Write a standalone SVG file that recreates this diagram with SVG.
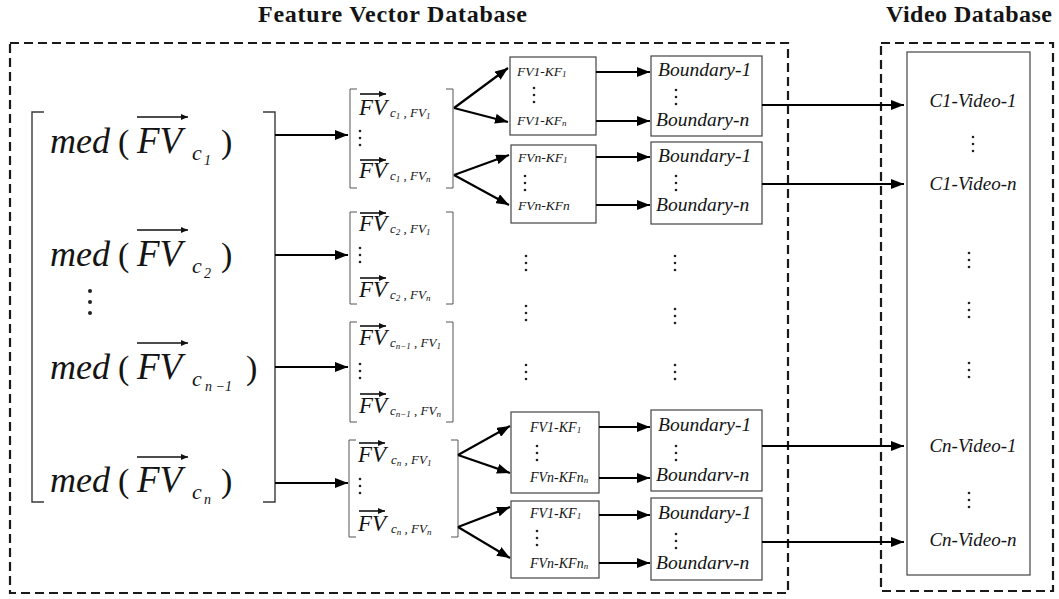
<svg xmlns="http://www.w3.org/2000/svg" width="1059" height="599" viewBox="0 0 1059 599">
<style>
.t{font-family:"Liberation Serif","Times New Roman",serif;fill:#141414}
.ti{font-weight:bold;font-size:24px}
.big{font-style:italic;font-size:36px}
.fv{font-style:italic;font-size:37px}
.par{font-size:34px}
.cs{font-style:italic;font-size:22px}
.cs2{font-style:italic;font-size:14px}
.mfv{font-style:italic;font-size:23px}
.msb{font-style:italic;font-size:13px}
.mss{font-style:italic;font-size:9px}
.kf{font-style:italic;font-size:13.5px}
.kfb{font-style:italic;font-size:14px}
.kfs{font-style:italic;font-size:9px}
.bd{font-style:italic;font-size:19.5px}
.vd{font-style:italic;font-size:19px}
.dash{fill:none;stroke:#1a1a1a;stroke-width:2.2;stroke-dasharray:9,5}
.box{fill:#fff;stroke:#444;stroke-width:1.2}
.br{fill:none;stroke:#3a3a3a;stroke-width:1.4}
.mbr{fill:none;stroke:#555;stroke-width:1}
.c{fill:none;stroke:#000;stroke-width:2.2}
.ov{fill:none;stroke:#111;stroke-width:1.6}
.dot{fill:#222}
</style>
<defs>
<marker id="ah" viewBox="0 0 13 10" refX="13" refY="5" markerWidth="13" markerHeight="10" markerUnits="userSpaceOnUse" orient="auto">
<path d="M0,0 L13,5 L0,10 z" fill="#000"/>
</marker>
<marker id="sa" viewBox="0 0 7 6" refX="7" refY="3" markerWidth="7" markerHeight="6" markerUnits="userSpaceOnUse" orient="auto">
<path d="M0,0 L7,3 L0,6 z" fill="#111"/>
</marker>
<symbol id="vdots" overflow="visible">
<circle class="dot" cx="0" cy="0" r="1.3"/><circle class="dot" cx="0" cy="7" r="1.3"/><circle class="dot" cx="0" cy="14" r="1.3"/>
</symbol>
<symbol id="bdots" overflow="visible">
<circle class="dot" cx="0" cy="0" r="2"/><circle class="dot" cx="0" cy="11" r="2"/><circle class="dot" cx="0" cy="22" r="2"/>
</symbol>
</defs>
<rect width="1059" height="599" fill="#fff"/>

<g id="titles">
<text class="t ti" x="392.5" y="22" text-anchor="middle" textLength="269" lengthAdjust="spacing">Feature Vector Database</text>
<text class="t ti" x="969" y="22" text-anchor="middle" textLength="166" lengthAdjust="spacing">Video Database</text>
</g>

<g id="feature-vector-database">
<rect class="dash" x="10" y="43" width="778" height="550"/>
</g>
<g id="video-database">
<rect class="dash" x="881" y="43" width="172" height="548"/>
</g>

<g id="median-vectors">
<path class="br" d="M44,112 H32 V502 H44"/>
<path class="br" d="M263,112 H275 V502 H263"/>
<text class="t big" x="50" y="153">med</text>
<text class="t par" x="118" y="153">(</text>
<text class="t fv" x="137" y="153">FV</text>
<line class="ov" x1="137" y1="117" x2="188" y2="117" marker-end="url(#sa)"/>
<text class="t cs" x="192" y="160">c</text>
<text class="t cs2" x="204" y="165">1</text>
<text class="t par" x="221" y="153">)</text>

<text class="t big" x="50" y="266">med</text>
<text class="t par" x="118" y="266">(</text>
<text class="t fv" x="137" y="266">FV</text>
<line class="ov" x1="137" y1="230" x2="188" y2="230" marker-end="url(#sa)"/>
<text class="t cs" x="192" y="273">c</text>
<text class="t cs2" x="204" y="278">2</text>
<text class="t par" x="221" y="266">)</text>

<use href="#bdots" x="90" y="291"/>

<text class="t big" x="50" y="379">med</text>
<text class="t par" x="118" y="379">(</text>
<text class="t fv" x="137" y="379">FV</text>
<line class="ov" x1="137" y1="343" x2="188" y2="343" marker-end="url(#sa)"/>
<text class="t cs" x="192" y="386">c</text>
<text class="t cs2" x="205" y="391">n −1</text>
<text class="t par" x="246" y="379">)</text>

<text class="t big" x="50" y="492">med</text>
<text class="t par" x="118" y="492">(</text>
<text class="t fv" x="137" y="492">FV</text>
<line class="ov" x1="137" y1="457" x2="188" y2="457" marker-end="url(#sa)"/>
<text class="t cs" x="192" y="499">c</text>
<text class="t cs2" x="204" y="504">n</text>
<text class="t par" x="221" y="492">)</text>
</g>

<g id="cluster-1-vectors">
<path class="mbr" d="M357,89 H350 V188 H357"/>
<path class="mbr" d="M446,89 H453 V188 H446"/>
<text class="t mfv" x="359" y="115">FV</text>
<line class="ov" x1="360" y1="94" x2="386" y2="94" stroke-width="1.2" marker-end="url(#sa)"/>
<text class="t msb" x="390" y="117">c<tspan class="mss" dy="2">1</tspan><tspan dy="-2"> , FV</tspan><tspan class="mss" dy="2">1</tspan></text>
<use href="#vdots" x="360" y="131"/>
<text class="t mfv" x="359" y="178">FV</text>
<line class="ov" x1="360" y1="160" x2="386" y2="160" stroke-width="1.2" marker-end="url(#sa)"/>
<text class="t msb" x="390" y="180">c<tspan class="mss" dy="2">1</tspan><tspan dy="-2"> , FV</tspan><tspan class="mss" dy="2">n</tspan></text>
</g>

<g id="cluster-2-vectors">
<path class="mbr" d="M357,212 H350 V304 H357"/>
<path class="mbr" d="M446,212 H453 V304 H446"/>
<text class="t mfv" x="359" y="231">FV</text>
<line class="ov" x1="360" y1="213" x2="386" y2="213" stroke-width="1.2" marker-end="url(#sa)"/>
<text class="t msb" x="390" y="233">c<tspan class="mss" dy="2">2</tspan><tspan dy="-2"> , FV</tspan><tspan class="mss" dy="2">1</tspan></text>
<use href="#vdots" x="360" y="248"/>
<text class="t mfv" x="359" y="297">FV</text>
<line class="ov" x1="360" y1="278" x2="386" y2="278" stroke-width="1.2" marker-end="url(#sa)"/>
<text class="t msb" x="390" y="299">c<tspan class="mss" dy="2">2</tspan><tspan dy="-2"> , FV</tspan><tspan class="mss" dy="2">n</tspan></text>
</g>

<g id="cluster-n-1-vectors">
<path class="mbr" d="M357,322 H350 V422 H357"/>
<path class="mbr" d="M446,322 H453 V422 H446"/>
<text class="t mfv" x="359" y="345">FV</text>
<line class="ov" x1="360" y1="326" x2="386" y2="326" stroke-width="1.2" marker-end="url(#sa)"/>
<text class="t msb" x="390" y="347">c<tspan class="mss" dy="2">n−1</tspan><tspan dy="-2"> , FV</tspan><tspan class="mss" dy="2">1</tspan></text>
<use href="#vdots" x="360" y="364"/>
<text class="t mfv" x="359" y="413">FV</text>
<line class="ov" x1="360" y1="394" x2="386" y2="394" stroke-width="1.2" marker-end="url(#sa)"/>
<text class="t msb" x="390" y="415">c<tspan class="mss" dy="2">n−1</tspan><tspan dy="-2"> , FV</tspan><tspan class="mss" dy="2">n</tspan></text>
</g>

<g id="cluster-n-vectors">
<path class="mbr" d="M356,440 H349 V537 H356"/>
<path class="mbr" d="M451,440 H458 V537 H451"/>
<text class="t mfv" x="358" y="462">FV</text>
<line class="ov" x1="359" y1="443" x2="385" y2="443" stroke-width="1.2" marker-end="url(#sa)"/>
<text class="t msb" x="391" y="464">c<tspan class="mss" dy="2">n</tspan><tspan dy="-2"> , FV</tspan><tspan class="mss" dy="2">1</tspan></text>
<use href="#vdots" x="360" y="479"/>
<text class="t mfv" x="358" y="531">FV</text>
<line class="ov" x1="359" y1="511" x2="385" y2="511" stroke-width="1.2" marker-end="url(#sa)"/>
<text class="t msb" x="391" y="533">c<tspan class="mss" dy="2">n</tspan><tspan dy="-2"> , FV</tspan><tspan class="mss" dy="2">n</tspan></text>
</g>

<g id="kf-box-1">
<rect class="box" x="510" y="57" width="86" height="78"/>
<text class="t kf" x="517" y="76">FV1-KF<tspan class="kfs" dy="1">1</tspan></text>
<use href="#vdots" x="534" y="88"/>
<text class="t kf" x="517" y="125">FV1-KF<tspan class="kfs" dy="1">n</tspan></text>
</g>
<g id="kf-box-2">
<rect class="box" x="511" y="145" width="85" height="78"/>
<text class="t kf" x="518" y="162">FVn-KF<tspan class="kfs" dy="1">1</tspan></text>
<use href="#vdots" x="525" y="176"/>
<text class="t kf" x="518" y="210">FVn-KFn</text>
</g>
<g id="kf-box-3">
<rect class="box" x="511" y="412" width="88" height="81"/>
<text class="t kfb" x="530" y="432">FV1-KF<tspan class="kfs" dy="1">1</tspan></text>
<use href="#vdots" x="537" y="446"/>
<text class="t kfb" x="530" y="482">FVn-KFn<tspan class="kfs" dy="1">n</tspan></text>
</g>
<g id="kf-box-4">
<rect class="box" x="511" y="501" width="88" height="77"/>
<text class="t kfb" x="530" y="518">FV1-KF<tspan class="kfs" dy="1">1</tspan></text>
<use href="#vdots" x="537" y="531"/>
<text class="t kfb" x="530" y="568">FVn-KFn<tspan class="kfs" dy="1">n</tspan></text>
</g>

<g id="boundary-box-1">
<rect class="box" x="651" y="56" width="111" height="80"/>
<text class="t bd" x="658" y="76">Boundary-1</text>
<use href="#vdots" x="676" y="90"/>
<text class="t bd" x="656" y="126">Boundary-n</text>
</g>
<g id="boundary-box-2">
<rect class="box" x="651" y="142" width="111" height="82"/>
<text class="t bd" x="658" y="162">Boundary-1</text>
<use href="#vdots" x="676" y="176"/>
<text class="t bd" x="656" y="211">Boundary-n</text>
</g>
<g id="boundary-box-3">
<rect class="box" x="651" y="410" width="111" height="81"/>
<text class="t bd" x="658" y="431">Boundary-1</text>
<use href="#vdots" x="676" y="446"/>
<text class="t bd" x="656" y="481">Boundarv-n</text>
</g>
<g id="boundary-box-4">
<rect class="box" x="651" y="498" width="111" height="82"/>
<text class="t bd" x="658" y="519">Boundary-1</text>
<use href="#vdots" x="676" y="534"/>
<text class="t bd" x="656" y="569">Boundarv-n</text>
</g>

<g id="middle-ellipses">
<use href="#vdots" x="526" y="256"/>
<use href="#vdots" x="526" y="306"/>
<use href="#vdots" x="526" y="365"/>
<use href="#vdots" x="675" y="256"/>
<use href="#vdots" x="675" y="309"/>
<use href="#vdots" x="675" y="365"/>
</g>

<g id="video-list">
<rect class="box" x="907" y="52" width="123" height="523"/>
<text class="t vd" x="973" y="107" text-anchor="middle">C1-Video-1</text>
<use href="#vdots" x="973" y="137"/>
<text class="t vd" x="973" y="190" text-anchor="middle">C1-Video-n</text>
<use href="#vdots" x="969" y="253"/>
<use href="#vdots" x="969" y="303"/>
<use href="#vdots" x="969" y="363"/>
<text class="t vd" x="973" y="452" text-anchor="middle">Cn-Video-1</text>
<use href="#vdots" x="969" y="493"/>
<text class="t vd" x="973" y="546" text-anchor="middle">Cn-Video-n</text>
</g>

<g id="connectors">
<line class="c" x1="275" y1="135" x2="348" y2="135" marker-end="url(#ah)"/>
<line class="c" x1="275" y1="255" x2="348" y2="255" marker-end="url(#ah)"/>
<line class="c" x1="275" y1="367" x2="348" y2="367" marker-end="url(#ah)"/>
<line class="c" x1="275" y1="483" x2="348" y2="483" marker-end="url(#ah)"/>

<line class="c" x1="454" y1="108" x2="508" y2="68" marker-end="url(#ah)"/>
<line class="c" x1="454" y1="108" x2="508" y2="122" marker-end="url(#ah)"/>
<line class="c" x1="454" y1="175" x2="509" y2="155" marker-end="url(#ah)"/>
<line class="c" x1="454" y1="175" x2="509" y2="205" marker-end="url(#ah)"/>
<line class="c" x1="458" y1="455" x2="510" y2="426" marker-end="url(#ah)"/>
<line class="c" x1="458" y1="455" x2="510" y2="473" marker-end="url(#ah)"/>
<line class="c" x1="458" y1="527" x2="510" y2="507" marker-end="url(#ah)"/>
<line class="c" x1="458" y1="527" x2="510" y2="558" marker-end="url(#ah)"/>

<line class="c" x1="596" y1="72" x2="650" y2="72" marker-end="url(#ah)"/>
<line class="c" x1="596" y1="121" x2="650" y2="121" marker-end="url(#ah)"/>
<line class="c" x1="596" y1="157" x2="650" y2="157" marker-end="url(#ah)"/>
<line class="c" x1="596" y1="205" x2="650" y2="205" marker-end="url(#ah)"/>
<line class="c" x1="599" y1="427" x2="650" y2="427" marker-end="url(#ah)"/>
<line class="c" x1="599" y1="478" x2="650" y2="478" marker-end="url(#ah)"/>
<line class="c" x1="599" y1="515" x2="650" y2="515" marker-end="url(#ah)"/>
<line class="c" x1="599" y1="563" x2="650" y2="563" marker-end="url(#ah)"/>

<line class="c" x1="762" y1="105" x2="904" y2="105" marker-end="url(#ah)"/>
<line class="c" x1="762" y1="184" x2="904" y2="184" marker-end="url(#ah)"/>
<line class="c" x1="762" y1="446" x2="904" y2="446" marker-end="url(#ah)"/>
<line class="c" x1="762" y1="542" x2="904" y2="542" marker-end="url(#ah)"/>
</g>
</svg>
